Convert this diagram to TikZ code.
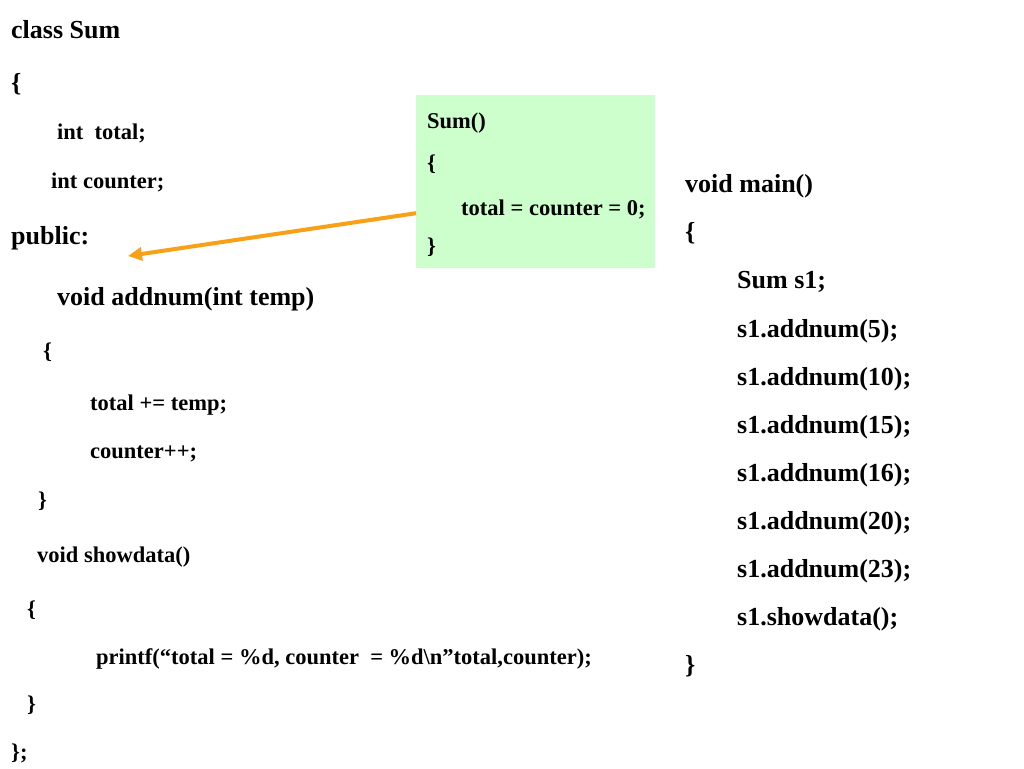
\documentclass[tikz,border=0pt]{standalone}
\usepackage{fontspec}
\setmainfont{Liberation Serif}
\usetikzlibrary{arrows.meta}
\definecolor{boxgreen}{RGB}{204,255,204}
\definecolor{arroworange}{RGB}{247,160,24}
\tikzset{
  big/.style={anchor=base west,inner sep=0pt,font=\fontsize{26}{30}\selectfont\bfseries},
  small/.style={anchor=base west,inner sep=0pt,font=\fontsize{22.5}{26}\selectfont\bfseries},
  greenbox/.style={fill=boxgreen,draw=none,minimum width=239pt,minimum height=173pt,anchor=north west,inner sep=0pt},
  orangearrow/.style={draw=arroworange,line width=4pt,-{Triangle[length=14pt,width=13pt]}}
}
\begin{document}
\begin{tikzpicture}[x=1pt,y=-1pt]
\useasboundingbox (0,0) rectangle (1024,768);
\fill[white] (0,0) rectangle (1024,768);
% left column
\node[big]   (l1)  at (11,38)  {class Sum};
\node[big]   (l2)  at (11,91)  {\{};
\node[small] (l3)  at (57,139) {int\ \ total;};
\node[small] (l4)  at (51,188) {int counter;};
\node[big]   (l5)  at (11,244) {public:};
\node[big]   (l6)  at (57,305) {void addnum(int temp)};
\node[small] (l7)  at (43,358) {\{};
\node[small] (l8)  at (90,410) {total += temp;};
\node[small] (l9)  at (90,458) {counter++;};
\node[small] (l10) at (38,507) {\}};
\node[small] (l11) at (37,562) {void showdata()};
\node[small] (l12) at (27,616) {\{};
\node[small] (l13) at (96,664) {printf(“total = \%d, counter\ \ = \%d\textbackslash n”total,counter);};
\node[small] (l14) at (27,711) {\}};
\node[small] (l15) at (11,759) {\};};
% green box
\node[greenbox] (box) at (416,95) {};
\node[small] (b1) at (427,128) {Sum()};
\node[small] (b2) at (427,170) {\{};
\node[small] (b3) at (461,215) {total = counter = 0;};
\node[small] (b4) at (427,253) {\}};
% right column
\node[big] (r1)  at (685,192) {void main()};
\node[big] (r2)  at (685,240) {\{};
\node[big] (r3)  at (737,288) {Sum s1;};
\node[big] (r4)  at (737,337) {s1.addnum(5);};
\node[big] (r5)  at (737,385) {s1.addnum(10);};
\node[big] (r6)  at (737,433) {s1.addnum(15);};
\node[big] (r7)  at (737,481) {s1.addnum(16);};
\node[big] (r8)  at (737,529) {s1.addnum(20);};
\node[big] (r9)  at (737,577) {s1.addnum(23);};
\node[big] (r10) at (737,625) {s1.showdata();};
\node[big] (r11) at (685,673) {\}};
% arrow
\coordinate (tip) at (128,256);
\draw[orangearrow] ([yshift=-31.5pt]box.west) -- (tip);
\end{tikzpicture}
\end{document}
